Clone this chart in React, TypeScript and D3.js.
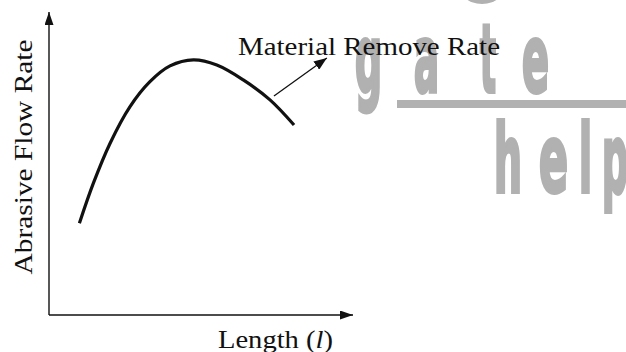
import React, { useEffect, useRef } from "react";
import * as d3 from "d3";

// curve (arbitrary units, 0-100 on both axes)
const lengthVals = [10.0, 14.6, 20.1, 26.6, 33.2, 39.8, 47.5, 55.2, 63.9, 72.7, 80.6];
const flowVals = [30.3, 43.5, 56.7, 68.7, 77.0, 82.2, 84.2, 82.5, 77.6, 71.0, 62.7];

// annotation arrow: from / to, in data units
const arrowFrom = [74.0, 72.3];
const arrowTo = [91.4, 84.8];

const xLabel = "Length";
const yLabel = "Abrasive Flow Rate";
const curveLabel = "Material Remove Rate";

// watermark glyphs
const markLetters = [
	{ ch: "g", x: 355, y: 92, w: 27 },
	{ ch: "a", x: 414, y: 92, w: 25 },
	{ ch: "t", x: 480, y: 92, w: 16 },
	{ ch: "e", x: 522, y: 92, w: 27 },
	{ ch: "h", x: 494, y: 192, w: 28 },
	{ ch: "e", x: 539, y: 192, w: 29 },
	{ ch: "l", x: 579, y: 192, w: 13 },
	{ ch: "p", x: 602, y: 192, w: 26 }
];

export default function App() {
	const ref = useRef<SVGSVGElement>(null);

	useEffect(() => {
		const svg = d3.select(ref.current);
		svg.selectAll("*").remove();

		const width = 626;
		const height = 352;
		const serif = "'Liberation Serif', 'DejaVu Serif', serif";
		const grey = "#b1b1b1";

		svg.attr("width", width).attr("height", height);

		const defs = svg.append("defs");
		const mk = (id: string, w: number, l: number) =>
			defs
				.append("marker")
				.attr("id", id)
				.attr("viewBox", `0 ${-w} ${l} ${2 * w}`)
				.attr("refX", l)
				.attr("refY", 0)
				.attr("markerUnits", "userSpaceOnUse")
				.attr("markerWidth", l)
				.attr("markerHeight", 2 * w)
				.attr("orient", "auto")
				.append("path")
				.attr("d", `M0,${-w}L${l},0L0,${w}Z`)
				.attr("fill", "#111");
		mk("axisHead", 4.5, 13);
		mk("noteHead", 5, 13);

		// watermark (behind)
		const wm = svg.append("g").attr("fill", grey);
		wm.append("ellipse").attr("cx", 482).attr("cy", -20).attr("rx", 26).attr("ry", 24);
		wm.append("ellipse").attr("cx", 482).attr("cy", -22).attr("rx", 20).attr("ry", 22).attr("fill", "#fff");
		wm.append("rect").attr("x", 397).attr("y", 100).attr("width", 229).attr("height", 8);
		wm.selectAll("text")
			.data(markLetters)
			.enter()
			.append("text")
			.attr("x", (d) => d.x)
			.attr("y", (d) => d.y)
			.attr("textLength", (d) => d.w)
			.attr("lengthAdjust", "spacingAndGlyphs")
			.attr("font-family", "'DejaVu Sans Condensed', 'DejaVu Sans', sans-serif")
			.attr("font-weight", "bold")
			.attr("font-size", 94)
			.attr("stroke", grey)
			.attr("stroke-width", 4)
			.text((d) => d.ch);

		const x = d3.scaleLinear().domain([0, 100]).range([49, 353]);
		const y = d3.scaleLinear().domain([0, 100]).range([315, 12]);

		// axes
		const axes = svg.append("g").attr("stroke", "#111").attr("stroke-width", 1.4);
		axes.append("line")
			.attr("x1", x(0)).attr("y1", y(0))
			.attr("x2", x(0)).attr("y2", y(100))
			.attr("marker-end", "url(#axisHead)");
		axes.append("line")
			.attr("x1", x(0)).attr("y1", y(0))
			.attr("x2", x(100)).attr("y2", y(0))
			.attr("marker-end", "url(#axisHead)");

		// curve
		const pts = lengthVals.map((v, i) => [v, flowVals[i]] as [number, number]);
		const line = d3
			.line<[number, number]>()
			.x((d) => x(d[0]))
			.y((d) => y(d[1]))
			.curve(d3.curveCatmullRom.alpha(0.5));
		svg.append("path")
			.attr("d", line(pts))
			.attr("fill", "none")
			.attr("stroke", "#111")
			.attr("stroke-width", 3.2);

		// annotation
		svg.append("line")
			.attr("x1", x(arrowFrom[0])).attr("y1", y(arrowFrom[1]))
			.attr("x2", x(arrowTo[0])).attr("y2", y(arrowTo[1]))
			.attr("stroke", "#111")
			.attr("stroke-width", 1.3)
			.attr("marker-end", "url(#noteHead)");

		svg.append("text")
			.attr("x", 238)
			.attr("y", 55)
			.attr("textLength", 262)
			.attr("lengthAdjust", "spacingAndGlyphs")
			.attr("font-family", serif)
			.attr("font-size", 25)
			.attr("fill", "#111")
			.text(curveLabel);

		// axis titles
		svg.append("text")
			.attr("transform", "translate(32,157) rotate(-90)")
			.attr("text-anchor", "middle")
			.attr("textLength", 235)
			.attr("lengthAdjust", "spacingAndGlyphs")
			.attr("font-family", serif)
			.attr("font-size", 25)
			.attr("fill", "#111")
			.text(yLabel);

		const xt = svg.append("text")
			.attr("x", 218)
			.attr("y", 348)
			.attr("textLength", 115)
			.attr("lengthAdjust", "spacingAndGlyphs")
			.attr("font-family", serif)
			.attr("font-size", 25)
			.attr("fill", "#111");
		xt.append("tspan").text(xLabel + " (");
		xt.append("tspan").attr("font-style", "italic").text("l");
		xt.append("tspan").text(")");
	}, []);

	return (
		<div>
			<svg ref={ref} style={{ position: "absolute", left: 0, top: 0, background: "#fff" }} />
		</div>
	);
}
